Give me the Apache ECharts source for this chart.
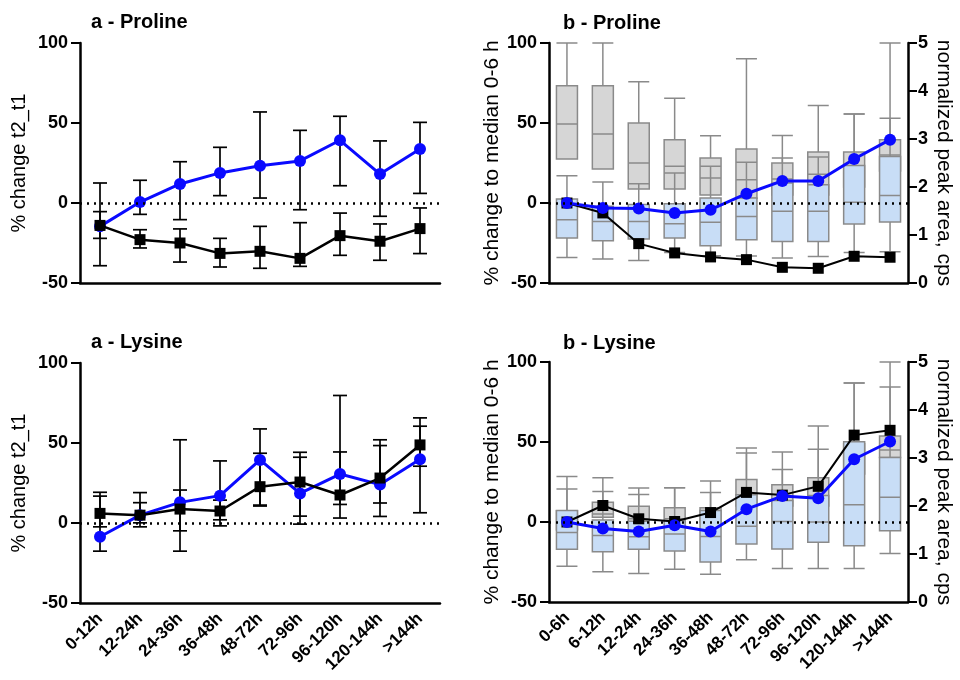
<!DOCTYPE html>
<html>
<head>
<meta charset="utf-8">
<script src="https://cdn.jsdelivr.net/npm/echarts@6/dist/echarts.min.js"></script>
<style>
  html, body { margin: 0; padding: 0; background: #fff; }
  #chart { width: 960px; height: 680px; }
</style>
</head>
<body>
<div id="chart"></div>
<script>
// categories
var catsA = ['0-12h', '12-24h', '24-36h', '36-48h', '48-72h', '72-96h', '96-120h', '120-144h', '>144h'];
var catsB = ['0-6h', '6-12h', '12-24h', '24-36h', '36-48h', '48-72h', '72-96h', '96-120h', '120-144h', '>144h'];

// a - Proline: means and error limits [low, high]
var proBlueA = [-14.6, 0.6, 11.9, 18.8, 23.3, 26.3, 39.2, 18.1, 33.8];
var proBlackA = [-14, -22.9, -25, -31.5, -30.2, -34.6, -20.4, -23.9, -16];
var proBlueErr = [[-39.2, 12.5], [-7.1, 14.2], [-10.4, 25.8], [4.6, 34.8], [3.1, 56.9], [-4.2, 45.4], [10.8, 54.2], [-8.3, 38.8], [6, 50.4]];
var proBlackErr = [[-22.1, -5.4], [-28.1, -16.7], [-36.9, -16.2], [-40, -22.1], [-40.8, -14.6], [-39.6, -12.3], [-32.7, -6.3], [-35.8, -13.1], [-31.6, -3.1]];

// a - Lysine
var lysBlueA = [-8.6, 4.9, 12.9, 17.1, 39.4, 18.5, 30.6, 24, 39.8];
var lysBlackA = [6, 4.9, 8.7, 7.5, 22.7, 25.6, 17.5, 28.1, 48.8];
var lysBlueErr = [[-17.6, 16.8], [0.1, 12.7], [-17.6, 52], [-1.8, 38.8], [11.2, 58.8], [-0.7, 41.1], [3.1, 79.7], [4.1, 48.4], [6.4, 60.5]];
var lysBlackErr = [[-2.4, 19.2], [-2.4, 19], [-4.9, 20.6], [2, 14.3], [10.6, 43.6], [4.3, 44.2], [11.6, 44.4], [12.5, 52], [35.5, 65.7]];

// b - Proline: boxes [min, Q1, median, Q3, max] and lines
var proGrayBox = [
  [27.5, 27.5, 49.4, 73.3, 100], [21.2, 21.2, 43.1, 73.3, 100], [8.75, 8.75, 25, 50, 75.8],
  [8.75, 8.75, 22.9, 39.6, 65.4], [5, 5, 15.6, 28.1, 42.1], [3, 3, 14.6, 33.75, 90.2],
  [5, 5, 15, 25, 42.25], [5, 5, 18, 31.9, 61], [10, 10, 20, 31.9, 55.6], [20, 20, 30, 39.6, 100]
];
var proBlueBox = [
  [-34, -21.9, -10.4, 2.5, 17.1], [-35, -23.6, -11.5, -2, 13.1], [-35.9, -22.5, -11.5, -1, 12.1],
  [-31, -21.9, -13, -0.4, 18.75], [-33, -26.7, -12, 3.1, 22.9], [-33.2, -22.9, -8.4, 3.1, 25.4],
  [-34.4, -24, -5.2, 12.5, 28.1], [-33.4, -24, -5.2, 11.4, 28.8], [-31, -13.1, 0.4, 23.5, 55.6],
  [-30.4, -11.9, 4.75, 29.1, 52.9]
];
var proBlueB = [0, -3.1, -3.5, -6.2, -4.2, 5.8, 13.8, 13.8, 27.5, 39.6];
var proBlackB = [0, -6.2, -25.4, -31.2, -33.7, -35.4, -40.2, -40.8, -33.3, -33.9];

// b - Lysine
var lysGrayBox = [
  [-5, -5, 0, 7, 20.6], [3, 3, 5, 12.4, 19.1], [0, 0, 2, 9.9, 17.2], [0, 0, 2, 8.9, 21.4],
  [0, 0, 3, 8.9, 18.5], [10, 10, 15, 26.5, 43.2], [10, 10, 13, 23.3, 32.8], [10, 10, 16, 27.7, 45.5],
  [30, 30, 40, 49, 86.8], [40.3, 40.3, 45, 53.7, 84.3]
];
var lysBlueBox = [
  [-27.6, -17.1, -6.6, 7.2, 28.5], [-31.1, -18.6, -8.5, 1.3, 27.7], [-32.2, -17.1, -9.2, 0.5, 21.2],
  [-29.5, -18.1, -7.5, 1, 21.4], [-32.6, -25, -9, 7.2, 25.6], [-23.6, -13.7, -2.7, 17, 46.3],
  [-29, -16.9, 0.3, 13.5, 43.8], [-29, -12.7, 0, 16.6, 60], [-29, -14.8, 10.8, 50.1, 86.8],
  [-19.7, -5.4, 15.5, 40.3, 100]
];
var lysBlueB = [0, -4.1, -6, -2, -6, 8, 16.2, 14.9, 39.2, 50.3];
var lysBlackB = [0, 10.3, 2, 0.3, 5.9, 18.5, 16.8, 22.3, 54.3, 57.3];

var FONT = '"Liberation Sans", Arial, sans-serif';
var BLUE = '#0a0aff';

function errData(arr) {
  return arr.map(function (e, i) { return [i, e[0], e[1]]; });
}

function errorBarRender(params, api) {
  var idx = api.value(0);
  var lo = api.coord([idx, api.value(1)]);
  var hi = api.coord([idx, api.value(2)]);
  var half = 7;
  var st = { stroke: '#000', lineWidth: 1.7 };
  return {
    type: 'group',
    children: [
      { type: 'line', shape: { x1: hi[0], y1: hi[1], x2: lo[0], y2: lo[1] }, style: st },
      { type: 'line', shape: { x1: hi[0] - half, y1: hi[1], x2: hi[0] + half, y2: hi[1] }, style: st },
      { type: 'line', shape: { x1: lo[0] - half, y1: lo[1], x2: lo[0] + half, y2: lo[1] }, style: st }
    ]
  };
}

function xAx(grid, data, showLabels) {
  return {
    type: 'category', gridIndex: grid, data: data,
    axisLine: { onZero: false, lineStyle: { color: '#000', width: 2.5 } },
    axisTick: { alignWithLabel: true, length: 9, lineStyle: { color: '#000', width: 2 } },
    axisLabel: {
      show: showLabels, rotate: 45, margin: 13, interval: 0,
      color: '#000', fontFamily: FONT, fontWeight: 'bold', fontSize: 17
    }
  };
}

function hiddenX(grid, data) {
  return { type: 'category', gridIndex: grid, data: data, show: false };
}

function yLeft(grid, name, fs, gap) {
  return {
    type: 'value', gridIndex: grid, min: -50, max: 100, interval: 50,
    name: name, nameLocation: 'middle', nameGap: gap,
    nameTextStyle: { color: '#000', fontFamily: FONT, fontSize: fs },
    axisLine: { show: true, lineStyle: { color: '#000', width: 2.5 } },
    axisTick: { show: true, length: 9, lineStyle: { color: '#000', width: 2 } },
    axisLabel: { margin: 12, color: '#000', fontFamily: FONT, fontWeight: 'bold', fontSize: 18 },
    splitLine: { show: false }
  };
}

function yRight(grid) {
  return {
    type: 'value', gridIndex: grid, position: 'right', min: 0, max: 5, interval: 1,
    name: 'normalized peak area, cps', nameLocation: 'middle', nameGap: 25, nameRotate: -90,
    nameTextStyle: { color: '#000', fontFamily: FONT, fontSize: 21 },
    axisLine: { show: true, lineStyle: { color: '#000', width: 2.5 } },
    axisTick: { show: true, length: 9, lineStyle: { color: '#000', width: 2 } },
    axisLabel: { margin: 10, color: '#000', fontFamily: FONT, fontWeight: 'bold', fontSize: 18 },
    splitLine: { show: false }
  };
}

var zeroLine = {
  silent: true, symbol: 'none', label: { show: false },
  lineStyle: { color: '#000', type: [2, 5], width: 2.5 },
  data: [{ yAxis: 0 }]
};

function lineSeries(x, y, data, color, symbol, size, width, z, withZero) {
  var s = {
    type: 'line', xAxisIndex: x, yAxisIndex: y, data: data, z: z,
    symbol: symbol, symbolSize: size,
    itemStyle: { color: color },
    lineStyle: { color: color, width: width }
  };
  if (withZero) s.markLine = zeroLine;
  return s;
}

function errSeries(x, y, arr) {
  return {
    type: 'custom', xAxisIndex: x, yAxisIndex: y, z: 2,
    renderItem: errorBarRender, encode: { x: 0, y: [1, 2] },
    data: errData(arr)
  };
}

function boxSeries(x, y, data, fill) {
  return {
    type: 'boxplot', xAxisIndex: x, yAxisIndex: y, z: 1,
    boxWidth: [21, 21], data: data,
    itemStyle: { color: fill, borderColor: '#8a8a8a', borderWidth: 1.5 }
  };
}

var titleStyle = { color: '#000', fontFamily: FONT, fontWeight: 'bold', fontSize: 20 };

var option = {
  animation: false,
  backgroundColor: '#fff',
  title: [
    { text: 'a - Proline', left: 91, top: 12, textStyle: titleStyle, padding: 0 },
    { text: 'b - Proline', left: 563, top: 13, textStyle: titleStyle, padding: 0 },
    { text: 'a - Lysine', left: 91, top: 332, textStyle: titleStyle, padding: 0 },
    { text: 'b - Lysine', left: 563, top: 333, textStyle: titleStyle, padding: 0 }
  ],
  grid: [
    { left: 80, top: 43, width: 360, height: 240 },
    { left: 549, top: 43, width: 359, height: 240 },
    { left: 80, top: 363, width: 360, height: 240 },
    { left: 549, top: 362, width: 359, height: 240 }
  ],
  xAxis: [
    xAx(0, catsA, false),
    xAx(1, catsB, false),
    xAx(2, catsA, true),
    xAx(3, catsB, true),
    hiddenX(1, catsB),
    hiddenX(3, catsB)
  ],
  yAxis: [
    yLeft(0, '% change t2_t1', 20, 51),
    yLeft(1, '% change to median 0-6 h', 21, 45),
    yLeft(2, '% change t2_t1', 20, 51),
    yLeft(3, '% change to median 0-6 h', 21, 45),
    yRight(1),
    yRight(3)
  ],
  series: [
    // a - Proline
    errSeries(0, 0, proBlueErr),
    errSeries(0, 0, proBlackErr),
    lineSeries(0, 0, proBlueA, BLUE, 'circle', 12, 3, 3, true),
    lineSeries(0, 0, proBlackA, '#000', 'rect', 11, 2.5, 4, false),
    // b - Proline
    boxSeries(1, 1, proGrayBox, '#d6d6d6'),
    boxSeries(4, 1, proBlueBox, '#c8ddf6'),
    lineSeries(1, 1, proBlackB, '#000', 'rect', 11, 2, 3, true),
    lineSeries(1, 1, proBlueB, BLUE, 'circle', 12, 3, 4, false),
    // a - Lysine
    errSeries(2, 2, lysBlueErr),
    errSeries(2, 2, lysBlackErr),
    lineSeries(2, 2, lysBlueA, BLUE, 'circle', 12, 3, 3, true),
    lineSeries(2, 2, lysBlackA, '#000', 'rect', 11, 2.5, 4, false),
    // b - Lysine
    boxSeries(3, 3, lysGrayBox, '#d6d6d6'),
    boxSeries(5, 3, lysBlueBox, '#c8ddf6'),
    lineSeries(3, 3, lysBlackB, '#000', 'rect', 11, 2, 3, true),
    lineSeries(3, 3, lysBlueB, BLUE, 'circle', 12, 3, 4, false)
  ]
};

var chart = echarts.init(document.getElementById('chart'));
chart.setOption(option);
</script>
</body>
</html>
